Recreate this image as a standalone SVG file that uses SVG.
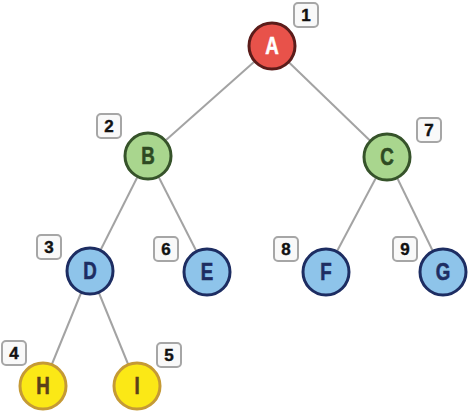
<svg xmlns="http://www.w3.org/2000/svg" width="475" height="412" viewBox="0 0 475 412">
<style>
.edge{stroke:#a3a3a3;stroke-width:2;fill:none}
.n circle{stroke-width:3}
.n text{font-family:"Liberation Sans",Arial,sans-serif;font-weight:bold;font-size:24px;text-anchor:middle;stroke-width:0.6}
.red circle{fill:#e8524a;stroke:#5b1c1a}
.red text{fill:#ffffff;stroke:#ffffff}
.grn circle{fill:#a9d68e;stroke:#36532a}
.grn text{fill:#2e4a22;stroke:#2e4a22}
.blu circle{fill:#8ec4ea;stroke:#1d2d62}
.blu text{fill:#1d2d62;stroke:#1d2d62}
.yel circle{fill:#fbe816;stroke:#c59a35}
.yel text{fill:#5a4119;stroke:#5a4119}
.lbl rect{fill:#f9f9f9;stroke:#a6a6a6;stroke-width:2}
.lbl text{font-family:"Liberation Sans",Arial,sans-serif;font-weight:bold;font-size:17px;text-anchor:middle;fill:#111;stroke:#111;stroke-width:0.4}
</style>
<g id="connectors">
<line class="edge" x1="272" y1="46" x2="148" y2="156"/>
<line class="edge" x1="272" y1="46" x2="387" y2="157"/>
<line class="edge" x1="148" y1="156" x2="90" y2="271"/>
<line class="edge" x1="148" y1="156" x2="207" y2="272"/>
<line class="edge" x1="387" y1="157" x2="326" y2="272"/>
<line class="edge" x1="387" y1="157" x2="443" y2="272"/>
<line class="edge" x1="90" y1="271" x2="43" y2="386"/>
<line class="edge" x1="90" y1="271" x2="137" y2="386"/>
</g>
<g id="A" class="n red"><circle cx="272" cy="46" r="23"/><text x="272" y="54.5" transform="translate(272 0) scale(0.78 1) translate(-272 0)">A</text></g>
<g id="B" class="n grn"><circle cx="148" cy="156" r="23"/><text x="148" y="164.5" transform="translate(148 0) scale(0.78 1) translate(-148 0)">B</text></g>
<g id="C" class="n grn"><circle cx="387" cy="157" r="23"/><text x="387" y="165.5" transform="translate(387 0) scale(0.78 1) translate(-387 0)">C</text></g>
<g id="D" class="n blu"><circle cx="90" cy="271" r="23"/><text x="90" y="279.5" transform="translate(90 0) scale(0.78 1) translate(-90 0)">D</text></g>
<g id="E" class="n blu"><circle cx="207" cy="272" r="23"/><text x="207" y="280.5" transform="translate(207 0) scale(0.78 1) translate(-207 0)">E</text></g>
<g id="F" class="n blu"><circle cx="326" cy="272" r="23"/><text x="326" y="280.5" transform="translate(326 0) scale(0.78 1) translate(-326 0)">F</text></g>
<g id="G" class="n blu"><circle cx="443" cy="272" r="23"/><text x="443" y="280.5" transform="translate(443 0) scale(0.78 1) translate(-443 0)">G</text></g>
<g id="H" class="n yel"><circle cx="43" cy="386" r="23"/><text x="43" y="394.5" transform="translate(43 0) scale(0.78 1) translate(-43 0)">H</text></g>
<g id="I" class="n yel"><circle cx="137" cy="386" r="23"/><text x="137" y="394.5" transform="translate(137 0) scale(0.78 1) translate(-137 0)">I</text></g>
<g id="labels">
<g class="lbl"><rect x="294" y="3" width="24" height="24" rx="4"/><text x="306" y="21">1</text></g>
<g class="lbl"><rect x="97" y="114" width="24" height="24" rx="4"/><text x="109" y="132">2</text></g>
<g class="lbl"><rect x="37" y="235" width="24" height="24" rx="4"/><text x="49" y="253">3</text></g>
<g class="lbl"><rect x="2" y="341" width="24" height="24" rx="4"/><text x="14" y="359">4</text></g>
<g class="lbl"><rect x="157" y="343" width="24" height="24" rx="4"/><text x="169" y="361">5</text></g>
<g class="lbl"><rect x="154" y="237" width="24" height="24" rx="4"/><text x="166" y="255">6</text></g>
<g class="lbl"><rect x="417" y="118" width="24" height="24" rx="4"/><text x="429" y="136">7</text></g>
<g class="lbl"><rect x="274" y="237" width="24" height="24" rx="4"/><text x="286" y="255">8</text></g>
<g class="lbl"><rect x="393" y="237" width="24" height="24" rx="4"/><text x="405" y="255">9</text></g>
</g>
</svg>
